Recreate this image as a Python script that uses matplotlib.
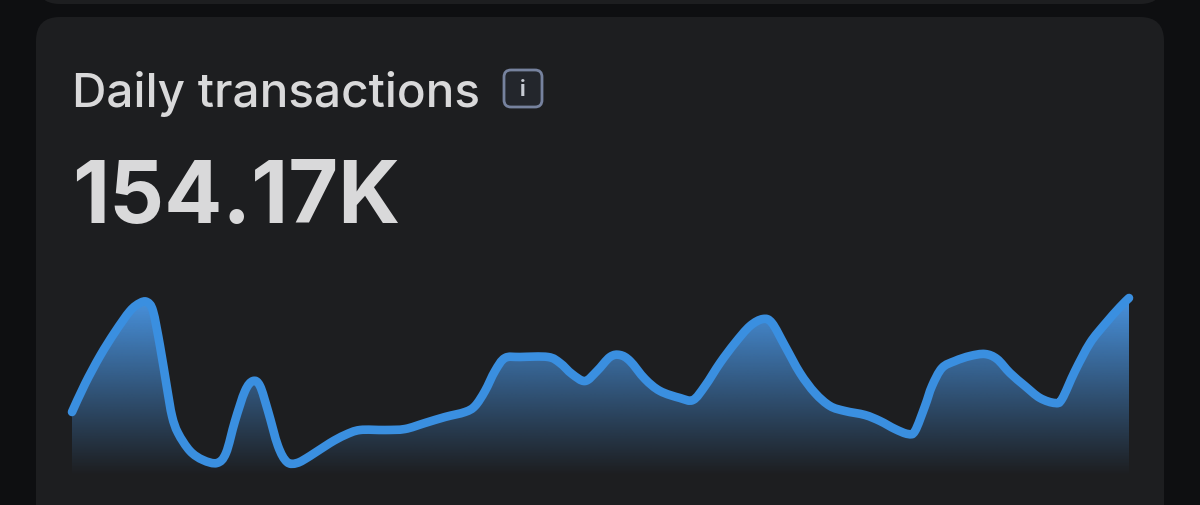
import numpy as np
import matplotlib
matplotlib.use("Agg")
import matplotlib.pyplot as plt
from matplotlib.patches import FancyBboxPatch, PathPatch
from matplotlib.path import Path
from matplotlib.colors import to_rgb

title = "Daily transactions"
headline = "154.17K"
# horizontal position along the period, and level
days = [72,85,100,115,130,140,147,153,160,167,172,178,190,203,217,226,235,245,253,260,268,278,287,297,310,330,345,360,385,405,425,445,465,475,485,495,505,520,548,560,572,585,597,610,620,630,645,660,680,693,705,720,735,750,763,772,785,800,815,830,845,865,880,895,908,915,925,932,942,955,970,985,997,1010,1025,1040,1055,1062,1075,1090,1105,1120,1129]
levels = [64,92,120,144,165,173,174,165,130,88,60,43,25,16,13,23,55,85,95,90,65,30,14,13,20,33,41,46,46,47,53,59,64,70,85,105,118,119,119,113,102,95,105,119,121,115,97,85,78,76,90,113,133,150,157,153,130,103,83,70,65,61,55,47,42,45,70,90,108,115,120,122,117,103,90,78,73,77,105,133,152,169,178]

BG = "#0e0f11"
CARD = "#1d1e20"
TEXT = "#d9d9da"
LINE = "#3a8fe0"
W, H = 1200, 506
BASE = 477

def smooth_segments(xs, ys):
    """Bezier curve through the data points (Catmull-Rom tangents)."""
    p = np.column_stack([xs, ys]).astype(float)
    verts = [tuple(p[0])]
    codes = [Path.MOVETO]
    for i in range(len(p) - 1):
        a = p[max(i - 1, 0)]
        b = p[i]
        c = p[i + 1]
        d = p[min(i + 2, len(p) - 1)]
        verts += [tuple(b + (c - a) / 6), tuple(c - (d - b) / 6), tuple(c)]
        codes += [Path.CURVE4] * 3
    return verts, codes

fig = plt.figure(figsize=(W / 100, H / 100), dpi=100, facecolor=BG)
bg = fig.add_axes([0, 0, 1, 1])
bg.set_xlim(0, W)
bg.set_ylim(H, 0)
bg.axis("off")

for (x, y, w, h) in [(36, -60, 1128, 65), (36, 18, 1128, 560)]:
    bg.add_patch(FancyBboxPatch((x + 24, y + 24), w - 48, h - 48,
                                boxstyle="round,pad=24,rounding_size=24",
                                fc=CARD, ec="none"))

bg.text(72, 107, title, family="Inter", fontsize=34.3, fontweight="medium", color=TEXT, va="baseline", ha="left")
bg.text(72, 223, headline, family="Inter", fontsize=62, fontweight="bold", color=TEXT, va="baseline", ha="left")
bg.add_patch(FancyBboxPatch((510, 77), 26, 25, boxstyle="round,pad=6,rounding_size=7",
                            fc="#23262c", ec="#76829e", lw=2))
bg.text(522.5, 90, "i", family="Inter", fontsize=15, fontweight="bold", color="#c8ccd4", ha="center", va="center")

# chart axes: one level unit = one pixel
ax = fig.add_axes([0, (H - BASE) / H, 1, BASE / H])
ax.set_xlim(0, W)
ax.set_ylim(0, BASE)
ax.axis("off")
ax.patch.set_alpha(0)

verts, codes = smooth_segments(days, levels)
fill_path = Path(verts + [(days[-1], 0), (days[0], 0), (days[0], levels[0])],
                 codes + [Path.LINETO, Path.LINETO, Path.CLOSEPOLY])
top = max(levels)
n = 256
t = np.linspace(1, 0, n)[:, None]
rgba = np.zeros((n, 2, 4))
rgba[..., :3] = to_rgb("#4a97e6")
rgba[..., 3] = t ** 1.05 * 0.97
im = ax.imshow(rgba, extent=[days[0], days[-1], 0, top], aspect="auto", zorder=1, interpolation="bilinear")
clip = PathPatch(fill_path, transform=ax.transData, fc="none", ec="none")
ax.add_patch(clip)
im.set_clip_path(clip)
ax.set_xlim(0, W)
ax.set_ylim(0, BASE)

ax.add_patch(PathPatch(Path(verts, codes), fc="none", ec=LINE, lw=6.2,
                       capstyle="round", joinstyle="round", zorder=2))

fig.savefig("out.png", dpi=100, facecolor=BG)
